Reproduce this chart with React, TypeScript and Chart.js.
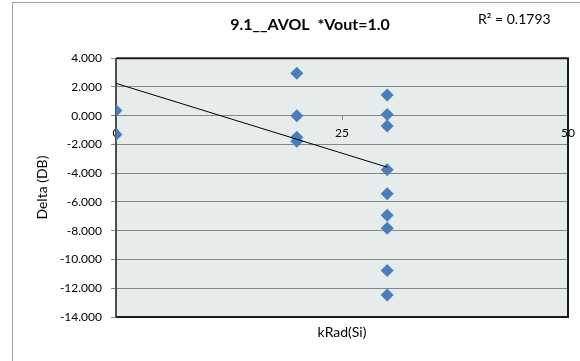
import React, { useEffect, useRef } from "react";
import { Chart, registerables } from "chart.js";

Chart.register(...registerables);

// ---- data ----
const titleText = "9.1__AVOL  *Vout=1.0";
const rSquaredLabel = "R² = 0.1793";
const xAxisTitle = "kRad(Si)";
const yAxisTitle = "Delta (DB)";

const kradValues = [0, 0, 20, 20, 20, 20, 30, 30, 30, 30, 30, 30, 30, 30, 30];
const deltaValues = [0.37, -1.3, 2.95, 0.0, -1.5, -1.77, 1.44, 0.09, -0.72, -3.75, -5.42, -6.93, -7.82, -10.77, -12.47];

// linear trend line end points (as drawn in the reference)
const trendX = [0, 30];
const trendY = [2.25, -3.58];

const xMin = 0;
const xMax = 50;
const xStep = 25;
const yMin = -14;
const yMax = 4;
const yStep = 2;

const FONT = "Lato, 'Open Sans', 'Liberation Sans', sans-serif";
const GRID = "#878787";
const MARKER = "#4A7EBB";

const framePlugin = {
  id: "frame",
  beforeDraw(chart: any) {
    const { ctx, chartArea } = chart;
    const { left, top, right, bottom } = chartArea;
    ctx.save();
    ctx.fillStyle = "#E6ECEC";
    ctx.fillRect(left, top, right - left, bottom - top);
    ctx.restore();
  },
  beforeDatasetsDraw(chart: any) {
    const { ctx, chartArea } = chart;
    const { left, top, right, bottom } = chartArea;
    ctx.save();
    ctx.lineWidth = 2;
    ctx.strokeStyle = "#1c1c1c";
    ctx.beginPath();
    ctx.moveTo(left, top);
    ctx.lineTo(right, top);
    ctx.lineTo(right, bottom);
    ctx.lineTo(left, bottom);
    ctx.stroke();
    ctx.strokeStyle = "#4f4f4f";
    ctx.beginPath();
    ctx.moveTo(left, top);
    ctx.lineTo(left, bottom);
    ctx.stroke();
    ctx.restore();
  },
  afterDraw(chart: any) {
    const { ctx, chartArea } = chart;
    ctx.save();
    ctx.font = `14px ${FONT}`;
    ctx.fillStyle = "#000";
    ctx.textAlign = "left";
    ctx.textBaseline = "middle";
    ctx.fillText(rSquaredLabel, chartArea.right - 90, chartArea.top - 39);
    ctx.restore();
  },
};

export default function App() {
  const canvasRef = useRef<HTMLCanvasElement | null>(null);

  useEffect(() => {
    if (!canvasRef.current) return;
    const points = kradValues.map((x, i) => ({ x, y: deltaValues[i] }));
    const trend = trendX.map((x, i) => ({ x, y: trendY[i] }));

    const chart = new Chart(canvasRef.current, {
      type: "scatter",
      data: {
        datasets: [
          {
            label: "Delta",
            data: points,
            pointStyle: "rectRot",
            pointRadius: 6.5,
            pointHoverRadius: 6.5,
            backgroundColor: MARKER,
            borderColor: MARKER,
            borderWidth: 0,
            order: 2,
          },
          {
            label: "Trend",
            data: trend,
            showLine: true,
            pointRadius: 0,
            borderColor: "#000",
            borderWidth: 1,
            fill: false,
            order: 1,
          } as any,
        ],
      },
      plugins: [framePlugin],
      options: {
        animation: false,
        responsive: false,
        events: [],
        layout: { padding: 0 },
        plugins: {
          legend: { display: false },
          tooltip: { enabled: false },
          title: {
            display: true,
            text: titleText,
            color: "#000",
            font: { family: FONT, size: 16, weight: "bold" },
            padding: { top: 12, bottom: 24 },
          },
        },
        scales: {
          x: {
            type: "linear",
            position: { y: 0 } as any,
            min: xMin,
            max: xMax,
            ticks: {
              stepSize: xStep,
              color: "#000",
              font: { family: FONT, size: 12 },
              padding: 6,
              maxRotation: 0,
              callback: (v: any) => String(v),
            },
            grid: { drawOnChartArea: false, tickLength: 4, color: GRID },
            border: { display: false },
          },
          xb: {
            type: "linear",
            position: "bottom",
            min: xMin,
            max: xMax,
            ticks: { display: false },
            grid: { display: false },
            border: { display: false },
            title: {
              display: true,
              text: xAxisTitle,
              color: "#000",
              font: { family: FONT, size: 14 },
              padding: { top: 0, bottom: 20 },
            },
            afterFit: (s: any) => {
              s.height = 44;
            },
          },
          y: {
            type: "linear",
            position: "left",
            min: yMin,
            max: yMax,
            ticks: {
              stepSize: yStep,
              color: "#000",
              font: { family: FONT, size: 12 },
              padding: 9,
              callback: (v: any) => Number(v).toFixed(3),
            },
            grid: { color: GRID, lineWidth: 1, tickLength: 5, tickColor: GRID },
            border: { display: false },
            title: {
              display: true,
              text: yAxisTitle,
              color: "#000",
              font: { family: FONT, size: 14 },
              padding: { top: 21, bottom: 0 },
            },
            afterFit: (s: any) => {
              s.width = 103;
            },
          },
          y2: {
            type: "linear",
            position: "right",
            ticks: { display: false },
            grid: { display: false },
            border: { display: false },
            afterFit: (s: any) => {
              s.width = 39;
            },
          },
        },
      } as any,
    });
    return () => chart.destroy();
  }, []);

  return (
    <div
      style={{
        position: "fixed",
        left: 0,
        top: 0,
        width: 580,
        height: 361,
        overflow: "hidden",
        background: "#fff",
      }}
    >
      <div
        style={{
          position: "absolute",
          left: 12,
          top: 2,
          width: 620,
          height: 400,
          border: "1px solid #a3a3a3",
          boxSizing: "border-box",
        }}
      />
      <canvas
        ref={canvasRef}
        width={594}
        height={358}
        style={{ position: "absolute", left: 13, top: 3, display: "block" }}
      />
    </div>
  );
}
